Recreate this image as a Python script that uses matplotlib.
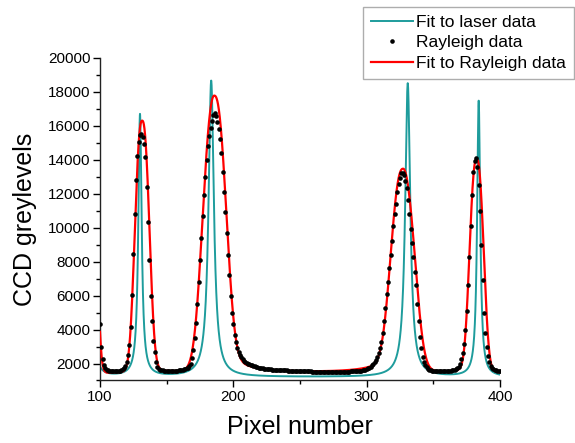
import numpy as np
import matplotlib
matplotlib.use("Agg")
import matplotlib.pyplot as plt
from matplotlib.ticker import MultipleLocator

plt.rcParams['font.family'] = ['Liberation Sans', 'DejaVu Sans']

# Rayleigh scattering data, one point per CCD pixel (100..400)
pixel = np.arange(100, 401)
rayleigh = [
    4300, 3000, 2250, 1900, 1720, 1640, 1600, 1580, 1570, 1560,
    1550, 1550, 1550, 1550, 1560, 1570, 1600, 1650, 1720, 1850,
    2100, 2500, 3100, 4150, 6050, 8450, 10800, 12800, 14250, 15050,
    15450, 15500, 15350, 14950, 14150, 12400, 10350, 8100, 6000, 4500,
    3350, 2650, 2100, 1800, 1680, 1640, 1610, 1590, 1580, 1570,
    1560, 1560, 1560, 1560, 1560, 1560, 1570, 1570, 1580, 1590,
    1600, 1610, 1630, 1650, 1680, 1710, 1750, 1850, 2000, 2300,
    2800, 3500, 4400, 5500, 6800, 8100, 9400, 10700, 11900, 13000,
    14000, 14800, 15400, 15900, 16300, 16650, 16750, 16600, 16250, 15800,
    15200, 14400, 13300, 12100, 10900, 9700, 8400, 7200, 6000, 5000,
    4300, 3700, 3250, 2900, 2650, 2500, 2370, 2260, 2170, 2100,
    2050, 2000, 1960, 1920, 1890, 1860, 1830, 1800, 1780, 1760,
    1740, 1720, 1710, 1700, 1690, 1680, 1670, 1660, 1650, 1645,
    1640, 1635, 1630, 1620, 1615, 1610, 1605, 1600, 1595, 1590,
    1590, 1585, 1580, 1580, 1575, 1570, 1570, 1565, 1560, 1560,
    1555, 1550, 1550, 1545, 1540, 1540, 1535, 1530, 1530, 1525,
    1520, 1520, 1515, 1515, 1510, 1510, 1510, 1505, 1505, 1505,
    1500, 1500, 1500, 1500, 1500, 1500, 1500, 1505, 1505, 1505,
    1510, 1510, 1510, 1515, 1515, 1520, 1520, 1525, 1530, 1535,
    1540, 1545, 1550, 1555, 1560, 1565, 1570, 1590, 1610, 1640,
    1670, 1710, 1760, 1820, 1900, 1990, 2100, 2230, 2400, 2620,
    2900, 3250, 3800, 4500, 5300, 6100, 6800, 7600, 8400, 9200,
    10100, 10800, 11400, 12100, 12600, 12950, 13200, 13250, 13100, 12750,
    12350, 11650, 10800, 9950, 9100, 8250, 7400, 6600, 5500, 4500,
    3550, 2900, 2400, 2100, 1900, 1780, 1690, 1640, 1600, 1580,
    1570, 1560, 1560, 1555, 1555, 1555, 1560, 1560, 1565, 1570,
    1565, 1570, 1575, 1585, 1595, 1605, 1620, 1660, 1720, 1820,
    1980, 2250, 2600, 3150, 4000, 5100, 6600, 8300, 10100, 11900,
    13300, 13950, 14100, 13600, 12500, 11000, 9000, 6900, 5000, 3800,
    3000, 2450, 2100, 1880, 1750, 1670, 1620, 1590, 1570, 1560,
    1560,
]

# Lorentzian fit of the laser fringes
laser_base = 1200
laser_centers = [93.0, 130.0, 183.4, 330.8, 384.0]
laser_heights = [17000, 15450, 17450, 17300, 16250]
laser_hwhm = [1.3, 1.5, 2.4, 2.3, 1.4]

# fit of the Rayleigh fringes: peaked core plus a weak wing that is
# wider on the side facing the ring centre
ray_base = 1420
ray_centers = [93.0, 131.6, 185.7, 327.3, 382.5]
ray_core = [15000, 14260, 14536, 10526, 12017]
ray_width = [5.5, 6.9, 11.3, 11.6, 6.7]
ray_wing = [0, 600, 1800, 1500, 600]
ray_wing_left = [1.0, 5.0, 6.0, 14.0, 8.0]
ray_wing_right = [1.0, 8.0, 14.0, 6.0, 5.0]


def laser_fit(x):
    y = np.full_like(x, laser_base, dtype=float)
    for c, h, g in zip(laser_centers, laser_heights, laser_hwhm):
        y += h / (1 + ((x - c) / g) ** 2)
    return y


def rayleigh_fit(x):
    y = np.full_like(x, ray_base, dtype=float)
    for i, c in enumerate(ray_centers):
        d = x - c
        y += ray_core[i] * np.exp(-(np.abs(d) / ray_width[i]) ** 2.5)
        g = np.where(d < 0, ray_wing_left[i], ray_wing_right[i])
        y += ray_wing[i] / (1 + (d / g) ** 2)
    return y


xs = np.linspace(100, 400, 3001)

fig = plt.figure(figsize=(5.75, 4.43), dpi=100)
ax = fig.add_axes([0.1739, 0.1411, 0.6957, 0.728])

ax.plot(xs, laser_fit(xs), color='#1E9C9C', lw=1.4, label='Fit to laser data', zorder=2)
ax.plot(pixel, rayleigh, 'o', color='black', ms=3.3, mec='none', label='Rayleigh data', zorder=4)
ax.plot(xs, rayleigh_fit(xs), color='#FF0000', lw=1.6, label='Fit to Rayleigh data', zorder=3)

ax.set_xlim(100, 400)
ax.set_ylim(1000, 20000)
ax.xaxis.set_major_locator(MultipleLocator(100))
ax.xaxis.set_minor_locator(MultipleLocator(50))
ax.yaxis.set_minor_locator(MultipleLocator(1000))
ax.set_yticks(np.arange(2000, 20001, 2000))

for side in ['top', 'right']:
    ax.spines[side].set_visible(False)
for side in ['left', 'bottom']:
    ax.spines[side].set_linewidth(1.0)
    ax.spines[side].set_color('#222222')

ax.tick_params(which='major', direction='out', length=5, width=1, labelsize=11, pad=2)
ax.tick_params(which='minor', direction='out', length=3, width=1)

ax.set_xlabel('Pixel number', fontsize=18, labelpad=8)
ax.set_ylabel('CCD greylevels', fontsize=18, labelpad=8)

handles, labels = ax.get_legend_handles_labels()
leg = fig.legend(handles, labels, loc='upper right', bbox_to_anchor=(574 / 575, 1 - 7 / 443),
                 fontsize=12.5, frameon=True, fancybox=False, edgecolor='#999999',
                 handlelength=2.4, handletextpad=0.2, labelspacing=0.3, borderpad=0.45,
                 numpoints=1, borderaxespad=0)
leg.get_frame().set_linewidth(1.0)

fig.savefig('out.png', dpi=100)
